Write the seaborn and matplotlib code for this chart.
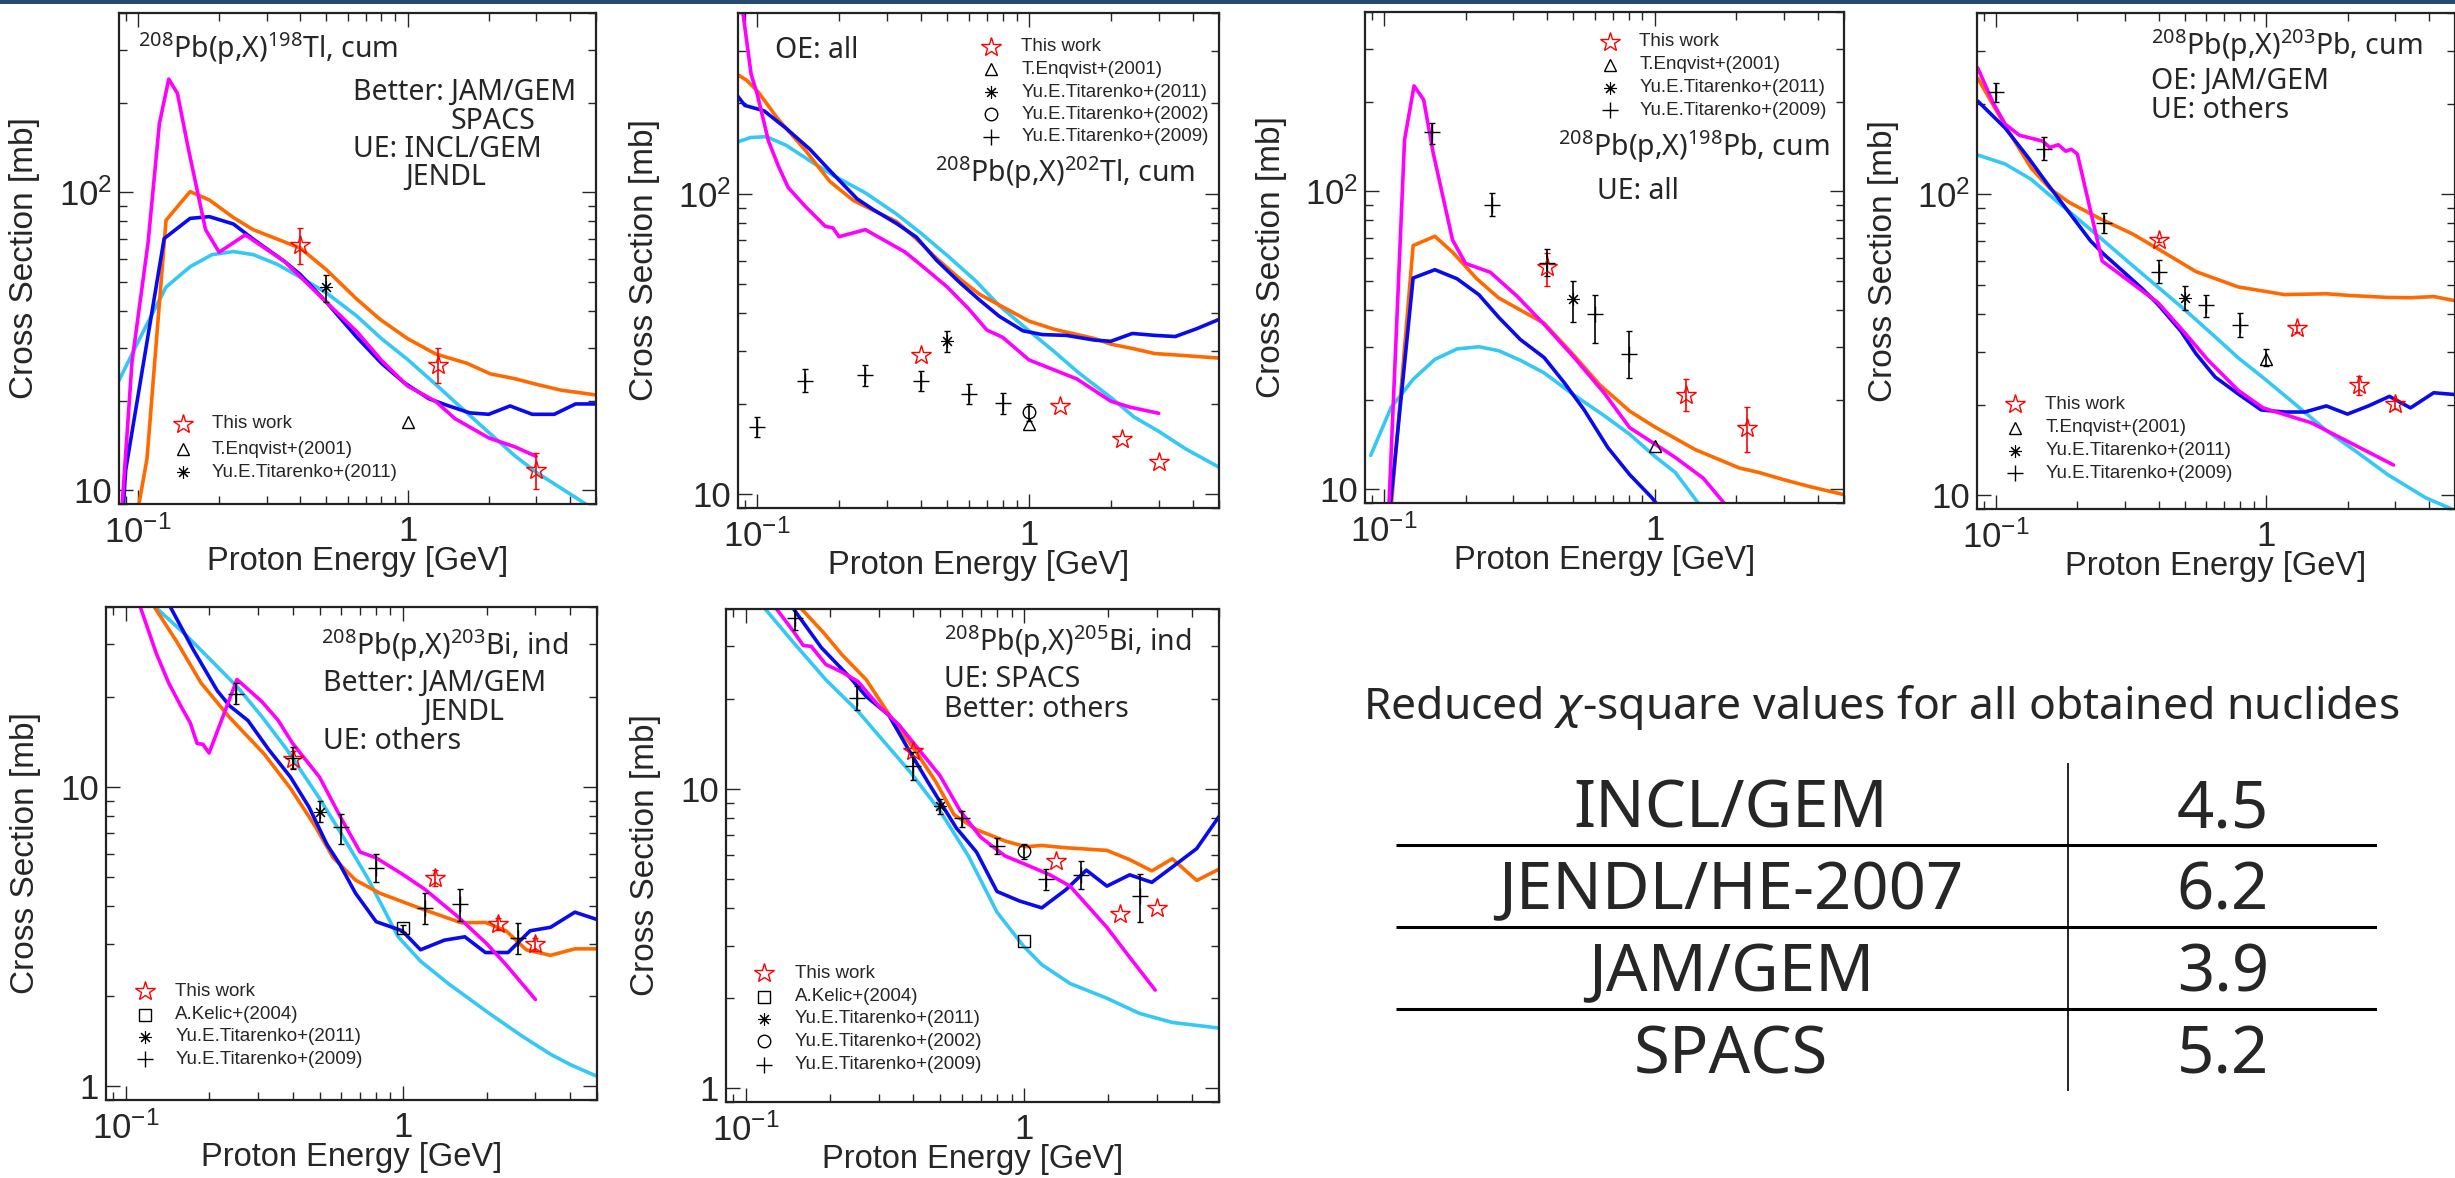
import numpy as np
import pandas as pd
import matplotlib
matplotlib.use("Agg")
import matplotlib.pyplot as plt
import seaborn as sns
from matplotlib.patches import Rectangle
from matplotlib.ticker import NullFormatter

# ---------------- model curves: name -> (proton energy [GeV], cross section [mb])
TL198_MODELS = {
    "SPACS": ([0.085, 0.104, 0.127, 0.156, 0.188, 0.226, 0.268, 0.328, 0.4, 0.5, 0.645, 0.8, 1.0, 1.27, 1.78, 2.49, 3.0, 4.58, 5.0],
              [23.4, 33.8, 48.1, 56.3, 61.8, 63.3, 61.8, 57.4, 51.9, 46.0, 38.6, 32.3, 27.5, 22.7, 17.2, 13.1, 11.5, 9.0, 8.4]),
    "JAM/GEM": ([0.0997, 0.108, 0.127, 0.156, 0.184, 0.226, 0.268, 0.4, 0.5, 0.645, 0.79, 1.0, 1.27, 1.66, 2.03, 2.5, 3.0, 3.7, 5.0],
                [8.5, 12.8, 80.6, 100.6, 94.3, 82.3, 74.9, 65.0, 55.0, 44.0, 37.5, 32.3, 28.7, 26.7, 24.6, 23.7, 22.7, 21.7, 20.9]),
    "INCL/GEM": ([0.088, 0.09, 0.125, 0.156, 0.184, 0.226, 0.268, 0.35, 0.4, 0.5, 0.645, 0.8, 0.97, 1.2, 1.4, 1.7, 2.0, 2.4, 2.9, 3.5, 4.2, 5.0],
                 [8.5, 11.7, 70.0, 81.8, 82.9, 78.3, 69.6, 58.6, 53.0, 42.8, 32.8, 26.7, 23.0, 20.3, 19.3, 18.2, 18.0, 19.2, 18.0, 18.0, 19.5, 19.5]),
    "JENDL/HE-2007": ([0.087, 0.095, 0.109, 0.12, 0.13, 0.14, 0.153, 0.178, 0.2, 0.25, 0.35, 0.5, 0.65, 0.8, 1.0, 1.27, 1.5, 2.0, 2.5, 3.0],
                      [8.5, 27.0, 68.0, 170.0, 240.0, 215.0, 143.0, 75.0, 63.0, 72.0, 58.6, 42.8, 34.0, 27.3, 22.4, 19.9, 17.4, 15.0, 14.0, 13.0]),
}
TL202_MODELS = {
    "SPACS": ([0.085, 0.0945, 0.108, 0.128, 0.156, 0.191, 0.249, 0.326, 0.4, 0.504, 0.637, 0.778, 1.0, 1.24, 1.52, 2.0, 2.43, 3.0, 3.75, 5.0],
              [149, 154, 155, 145, 129, 115, 101, 85.6, 74.0, 62.0, 51.3, 42.4, 35.0, 29.8, 25.4, 21.0, 18.1, 16.2, 14.2, 12.3]),
    "JAM/GEM": ([0.085, 0.0914, 0.101, 0.119, 0.151, 0.185, 0.226, 0.267, 0.326, 0.385, 0.456, 0.557, 0.658, 0.86, 1.0, 1.24, 1.74, 2.0, 2.43, 2.9, 3.45, 5.0],
                [249, 239, 218, 178, 139, 110, 95, 88.2, 80.8, 70.8, 61.1, 52.1, 46.3, 40.6, 37.7, 35.4, 33.0, 31.6, 30.5, 29.4, 29.1, 28.4]),
    "INCL/GEM": ([0.085, 0.09, 0.106, 0.128, 0.156, 0.191, 0.233, 0.267, 0.326, 0.385, 0.456, 0.557, 0.658, 0.778, 0.95, 1.12, 1.37, 1.74, 2.0, 2.4, 2.9, 3.45, 4.15, 5.0],
                 [211, 197, 189, 165, 141, 116, 96.3, 88.7, 79.6, 71.8, 60.2, 50.6, 44.3, 39.1, 35.0, 34.0, 33.8, 32.6, 32.3, 34.3, 33.8, 33.5, 35.6, 38.2]),
    "JENDL/HE-2007": ([0.088, 0.095, 0.1, 0.11, 0.12, 0.13, 0.15, 0.178, 0.19, 0.2, 0.25, 0.35, 0.4, 0.5, 0.6, 0.7, 0.8, 1.0, 1.5, 2.0, 2.35, 3.0],
                      [420, 250, 215, 150, 123, 105, 91, 78, 77, 72, 76, 64, 58, 49, 41.4, 35.2, 33.3, 28.0, 24.2, 20.4, 19.5, 18.6]),
}
PB198_MODELS = {
    "SPACS": ([0.0892, 0.106, 0.128, 0.154, 0.186, 0.224, 0.265, 0.319, 0.39, 0.5, 0.649, 0.808, 1.0, 1.19, 1.46],
              [13.0, 18.8, 23.4, 27.3, 29.6, 30.1, 29.2, 27.1, 24.6, 20.8, 17.7, 15.3, 12.9, 11.4, 8.9]),
    "JAM/GEM": ([0.106, 0.128, 0.154, 0.179, 0.22, 0.265, 0.39, 0.5, 0.627, 0.808, 1.0, 1.41, 2.05, 2.42, 2.97, 3.76, 5.0],
                [8.5, 65.8, 70.7, 62.5, 50.9, 43.9, 36.1, 28.3, 22.4, 18.3, 16.2, 13.6, 11.8, 11.4, 10.8, 10.2, 9.6]),
    "INCL/GEM": ([0.105, 0.128, 0.154, 0.186, 0.224, 0.265, 0.319, 0.39, 0.463, 0.548, 0.671, 0.808, 0.973, 1.03],
                 [8.5, 51.2, 54.6, 50.9, 45.0, 37.8, 31.8, 27.7, 22.8, 18.5, 13.8, 11.2, 9.4, 8.8]),
    "JENDL/HE-2007": ([0.104, 0.119, 0.129, 0.14, 0.152, 0.179, 0.2, 0.247, 0.309, 0.39, 0.5, 0.649, 0.808, 1.0, 1.19, 1.51, 1.84],
                      [8.5, 149, 226, 203, 134, 68.7, 57.3, 53.5, 44.6, 35.8, 27.9, 21.1, 16.1, 14.2, 12.8, 10.9, 8.8]),
}
PB203_MODELS = {
    "SPACS": ([0.0855, 0.108, 0.135, 0.17, 0.207, 0.251, 0.327, 0.397, 0.5, 0.647, 0.788, 0.99, 1.33, 1.67, 2.17, 2.82, 3.9, 5.0],
              [135, 126, 112, 93.8, 81.0, 69.9, 57.0, 49.2, 41.3, 33.6, 28.6, 24.3, 19.5, 16.4, 13.9, 11.7, 9.8, 8.9]),
    "JAM/GEM": ([0.0855, 0.108, 0.135, 0.159, 0.187, 0.243, 0.321, 0.397, 0.55, 0.788, 1.17, 1.67, 2.03, 2.82, 3.42, 4.17, 5.0],
                [243, 169, 122, 104, 93.8, 82.9, 73.7, 65.9, 55.3, 49.2, 46.4, 46.7, 46.1, 45.4, 45.3, 45.7, 44.3]),
    "INCL/GEM": ([0.0855, 0.108, 0.131, 0.154, 0.194, 0.224, 0.251, 0.296, 0.348, 0.397, 0.483, 0.55, 0.647, 0.788, 0.958, 1.17, 1.39, 1.67, 2.0, 2.39, 2.86, 3.42, 4.17, 5.0],
                 [204, 166, 133, 109, 82.9, 69.9, 63.1, 55.3, 48.5, 43.1, 35.1, 29.5, 24.7, 21.7, 19.2, 18.9, 18.9, 19.8, 18.6, 19.8, 21.3, 19.5, 21.9, 21.6]),
    "JENDL/HE-2007": ([0.0855, 0.0976, 0.108, 0.122, 0.149, 0.158, 0.17, 0.181, 0.19, 0.2, 0.247, 0.348, 0.397, 0.5, 0.607, 0.788, 0.974, 1.47, 2.03, 2.96],
                      [263, 201, 171, 157, 150, 143, 146, 139, 141, 136, 60.0, 47.7, 43.7, 34.6, 28.2, 22.3, 19.5, 17.4, 15.0, 12.6]),
}
BI203_MODELS = {
    "SPACS": ([0.115, 0.128, 0.164, 0.207, 0.253, 0.31, 0.38, 0.498, 0.609, 0.746, 0.96, 1.156, 1.46, 2.05, 2.69, 3.4, 4.02, 5.0],
              [46, 40, 32.4, 26.1, 21.6, 17.2, 13.4, 9.22, 6.81, 4.96, 3.16, 2.62, 2.2, 1.75, 1.47, 1.28, 1.18, 1.08]),
    "JAM/GEM": ([0.115, 0.127, 0.153, 0.187, 0.237, 0.316, 0.393, 0.481, 0.56, 0.674, 0.825, 1.156, 1.62, 1.98, 2.35, 2.78, 3.4, 4.16, 5.0],
                [46, 40, 30.6, 22.3, 17.1, 12.9, 9.9, 7.43, 5.81, 4.89, 4.42, 3.93, 3.52, 3.53, 3.31, 2.86, 2.74, 2.88, 2.88]),
    "INCL/GEM": ([0.13, 0.145, 0.175, 0.214, 0.237, 0.276, 0.327, 0.393, 0.458, 0.532, 0.589, 0.674, 0.8, 0.993, 1.156, 1.41, 1.67, 1.98, 2.39, 2.87, 3.4, 4.16, 5.0],
                 [48, 40, 28.9, 21.0, 18.7, 16.7, 13.4, 10.8, 8.58, 6.43, 5.56, 4.42, 3.55, 3.31, 2.86, 3.08, 3.16, 2.8, 2.8, 3.31, 3.40, 3.82, 3.61]),
    "JENDL/HE-2007": ([0.105, 0.113, 0.129, 0.143, 0.158, 0.171, 0.181, 0.19, 0.2, 0.252, 0.31, 0.355, 0.4, 0.5, 0.6, 0.7, 0.8, 1.0, 1.2, 1.57, 2.0, 2.35, 3.0],
                      [55, 40, 28, 22.3, 18.7, 16.4, 14.0, 13.9, 13.0, 22.9, 19.3, 16.7, 14.0, 10.8, 7.83, 6.07, 5.8, 5.1, 4.55, 3.7, 3.0, 2.55, 1.95]),
}
BI205_MODELS = {
    "SPACS": ([0.105, 0.117, 0.148, 0.194, 0.253, 0.31, 0.393, 0.498, 0.63, 0.798, 0.993, 1.156, 1.46, 1.98, 2.59, 3.4, 5.0],
              [48, 40.2, 31.0, 23.2, 18.2, 14.6, 11.3, 8.46, 5.98, 3.88, 2.99, 2.59, 2.24, 2.0, 1.78, 1.66, 1.59]),
    "JAM/GEM": ([0.145, 0.158, 0.19, 0.222, 0.271, 0.332, 0.407, 0.481, 0.56, 0.674, 0.853, 1.01, 1.156, 1.41, 1.98, 2.39, 2.87, 3.4, 4.16, 5.0],
                [46, 40.2, 33.4, 28.1, 23.2, 17.4, 13.4, 10.6, 8.21, 7.32, 6.71, 6.42, 6.48, 6.37, 6.24, 5.81, 5.33, 5.85, 4.95, 5.40]),
    "INCL/GEM": ([0.135, 0.148, 0.187, 0.237, 0.271, 0.326, 0.38, 0.45, 0.498, 0.57, 0.674, 0.798, 0.96, 1.156, 1.41, 1.67, 1.98, 2.39, 2.87, 3.4, 4.16, 5.0],
                 [47, 40.2, 29.7, 23.6, 20.4, 17.7, 13.8, 10.6, 9.09, 7.42, 6.16, 4.55, 4.23, 4.01, 4.61, 5.36, 4.74, 5.17, 4.88, 5.49, 6.33, 8.1]),
    "JENDL/HE-2007": ([0.115, 0.127, 0.148, 0.161, 0.172, 0.194, 0.222, 0.253, 0.3, 0.355, 0.407, 0.498, 0.589, 0.697, 0.853, 0.993, 1.236, 1.46, 1.98, 2.42, 2.95],
                      [48, 40.8, 33.8, 30.2, 30.0, 26.1, 24.6, 22.9, 19.0, 16.4, 14.0, 11.1, 8.46, 6.91, 5.98, 5.64, 5.17, 4.74, 3.45, 2.70, 2.13]),
}

# ---------------- measured points: label -> (energy, xs, err_low, err_high)
TL198_EXP = {
    "This work": ([0.4, 1.3, 3.0], [66.6, 26.3, 11.7], [9.2, 3.3, 1.6], [9.4, 3.7, 1.6]),
    "T.Enqvist+(2001)": ([1.0], [17.0], None, None),
    "Yu.E.Titarenko+(2011)": ([0.5], [48.1], [5.3], [4.9]),
}
TL202_EXP = {
    "This work": ([0.4, 1.3, 2.2, 3.0], [29.0, 19.6, 15.3, 12.8], None, None),
    "T.Enqvist+(2001)": ([1.0], [17.1], None, None),
    "Yu.E.Titarenko+(2011)": ([0.5], [32.3], [2.5], [2.7]),
    "Yu.E.Titarenko+(2002)": ([1.0], [18.8], [1.2], [1.2]),
    "Yu.E.Titarenko+(2009)": ([0.1, 0.15, 0.25, 0.4, 0.6, 0.8], [16.8, 23.9, 24.9, 23.9, 21.6, 20.1],
                              [1.3, 2.0, 2.0, 1.8, 1.6, 1.6], [1.3, 2.2, 2.0, 1.8, 1.6, 1.6]),
}
PB198_EXP = {
    "This work": ([0.4, 1.3, 2.2], [55.6, 20.8, 16.1], [7.6, 2.5, 2.8], [6.4, 2.6, 2.8]),
    "T.Enqvist+(2001)": ([1.0], [14.0], None, None),
    "Yu.E.Titarenko+(2011)": ([0.5], [43.4], [7.0], [6.8]),
    "Yu.E.Titarenko+(2009)": ([0.15, 0.25, 0.4, 0.6, 0.8], [158, 90.3, 57.6, 38.8, 28.5],
                              [14, 7.6, 5.6, 7.8, 4.9], [12, 8.2, 6.4, 6.2, 5.4]),
}
PB203_EXP = {
    "This work": ([0.4, 1.3, 2.2, 3.0], [70.3, 35.9, 23.3, 20.1], [1.0, 1.0, 1.7, 0.8], [1.0, 1.0, 1.6, 0.8]),
    "T.Enqvist+(2001)": ([1.0], [28.4], [1.6], [2.1]),
    "Yu.E.Titarenko+(2011)": ([0.5], [45.3], [3.9], [4.2]),
    "Yu.E.Titarenko+(2009)": ([0.1, 0.15, 0.25, 0.4, 0.6, 0.8], [218, 141, 80.5, 55.3, 42.7, 36.7],
                              [16, 11, 6, 4.6, 3.5, 3.2], [16, 14, 6, 5.1, 3.7, 3.6]),
}
BI203_EXP = {
    "This work": ([0.4, 1.3, 2.2, 3.0], [12.4, 4.98, 3.49, 2.99], [0.8, 0.3, 0.15, 0.15], [0.8, 0.3, 0.15, 0.15]),
    "A.Kelic+(2004)": ([1.0], [3.37], [0.1], [0.1]),
    "Yu.E.Titarenko+(2011)": ([0.5], [8.26], [0.6], [0.7]),
    "Yu.E.Titarenko+(2009)": ([0.25, 0.4, 0.6, 0.8, 1.2, 1.6, 2.6], [20.5, 12.5, 7.36, 5.37, 3.93, 4.07, 3.12],
                              [1.5, 1.0, 0.9, 0.55, 0.45, 0.5, 0.35], [1.8, 1.1, 0.8, 0.6, 0.5, 0.5, 0.4]),
}
BI205_EXP = {
    "This work": ([0.4, 1.3, 2.2, 3.0], [13.4, 5.73, 3.82, 4.01], None, None),
    "A.Kelic+(2004)": ([1.0], [3.10], None, None),
    "Yu.E.Titarenko+(2011)": ([0.5], [8.75], [0.5], [0.5]),
    "Yu.E.Titarenko+(2002)": ([1.0], [6.21], [0.35], [0.35]),
    "Yu.E.Titarenko+(2009)": ([0.15, 0.25, 0.4, 0.6, 0.8, 1.2, 1.6, 2.6], [37.4, 20.1, 11.96, 7.98, 6.46, 5.0, 5.18, 4.41],
                              [3.5, 1.7, 1.2, 0.5, 0.4, 0.4, 0.55, 0.8], [3.5, 2.0, 1.3, 0.5, 0.4, 0.4, 0.55, 0.8]),
}

# ---------------- reduced chi-square table
CHI2_MODELS = ["INCL/GEM", "JENDL/HE-2007", "JAM/GEM", "SPACS"]
CHI2_VALUES = [4.5, 6.2, 3.9, 5.2]

# ---------------- styles
MODEL_COLORS = {"SPACS": "#35c8f5", "JAM/GEM": "#ff6a00",
                "INCL/GEM": "#0a0af0", "JENDL/HE-2007": "#ff00ff"}
EXP_STYLE = {
    "This work": dict(marker="*", ms=15, mfc="none", mec="red", mew=1.0, color="red"),
    "T.Enqvist+(2001)": dict(marker="^", ms=9, mfc="none", mec="black", mew=1.0, color="black"),
    "Yu.E.Titarenko+(2011)": dict(marker=(8, 2, 0), ms=9, mec="black", mew=0.8, color="black"),
    "Yu.E.Titarenko+(2002)": dict(marker="o", ms=9, mfc="none", mec="black", mew=1.0, color="black"),
    "Yu.E.Titarenko+(2009)": dict(marker="+", ms=11, mec="black", mew=1.0, color="black"),
    "A.Kelic+(2004)": dict(marker="s", ms=8, mfc="none", mec="black", mew=1.0, color="black"),
}
ANNOT_FONT = ["Noto Sans", "DejaVu Sans"]

W, H = 2455, 1178
sns.set_style("ticks")
plt.rcParams["font.family"] = ["Liberation Sans", "DejaVu Sans"]
plt.rcParams["axes.linewidth"] = 1.6

fig = plt.figure(figsize=(W / 100, H / 100), dpi=100)
fig.add_artist(Rectangle((0, 1 - 4 / H), 1, 4 / H, transform=fig.transFigure,
                         color="#244a72", lw=0))


def rx(a, b):
    return rf"$^{{\mathdefault{{{a}}}}}$Pb(p,X)$^{{\mathdefault{{{b}}}}}$"


PANELS = [
    dict(box=(119, 13, 596, 504), models=TL198_MODELS, exp=TL198_EXP, low=False,
         key=(0.134, 0.195, [0.163, 0.112, 0.065]), ylab=-0.166,
         notes=[(0.04, 0.928, rx(208, 198) + "Tl, cum", "left"),
                (0.49, 0.838, "Better: JAM/GEM", "left"), (0.696, 0.78, "SPACS", "left"),
                (0.49, 0.722, "UE: INCL/GEM", "left"), (0.60, 0.665, "JENDL", "left")]),
    dict(box=(738, 13, 1219, 508), models=TL202_MODELS, exp=TL202_EXP, low=False,
         key=(0.526, 0.589, [0.932, 0.886, 0.840, 0.795, 0.750]), ylab=-0.163,
         notes=[(0.076, 0.925, "OE: all", "left"),
                (0.951, 0.678, rx(208, 202) + "Tl, cum", "right")]),
    dict(box=(1365, 12, 1844, 503), models=PB198_MODELS, exp=PB198_EXP, low=False,
         key=(0.511, 0.573, [0.939, 0.893, 0.846, 0.800]), ylab=-0.163,
         notes=[(0.969, 0.726, rx(208, 198) + "Pb, cum", "right"),
                (0.484, 0.635, "UE: all", "left")]),
    dict(box=(1977, 13, 2455, 509), models=PB203_MODELS, exp=PB203_EXP, low=False,
         key=(0.080, 0.143, [0.211, 0.164, 0.117, 0.072]), ylab=-0.163,
         notes=[(0.364, 0.935, rx(208, 203) + "Pb, cum", "left"),
                (0.364, 0.862, "OE: JAM/GEM", "left"), (0.364, 0.804, "UE: others", "left")]),
    dict(box=(106, 607, 597, 1100), models=BI203_MODELS, exp=BI203_EXP, low=True,
         key=(0.079, 0.141, [0.221, 0.173, 0.128, 0.083]), ylab=-0.132,
         notes=[(0.438, 0.922, rx(208, 203) + "Bi, ind", "left"),
                (0.442, 0.845, "Better: JAM/GEM", "left"), (0.645, 0.786, "JENDL", "left"),
                (0.442, 0.727, "UE: others", "left")]),
    dict(box=(726, 609, 1219, 1102), models=BI205_MODELS, exp=BI205_EXP, low=True,
         key=(0.077, 0.139, [0.261, 0.213, 0.169, 0.123, 0.076]), ylab=-0.132,
         notes=[(0.442, 0.933, rx(208, 205) + "Bi, ind", "left"),
                (0.442, 0.857, "UE: SPACS", "left"), (0.442, 0.797, "Better: others", "left")]),
]


def draw_panel(p):
    x0, y0, x1, y1 = p["box"]
    ax = fig.add_axes([x0 / W, 1 - y1 / H, (x1 - x0) / W, (y1 - y0) / H])
    ax.set_xscale("log")
    ax.set_yscale("log")

    rows = []
    for name, (e, xs) in p["models"].items():
        rows += [(name, a, b) for a, b in zip(e, xs)]
    df = pd.DataFrame(rows, columns=["model", "E", "xs"])
    sns.lineplot(data=df, x="E", y="xs", hue="model", palette=MODEL_COLORS,
                 estimator=None, sort=False, lw=2.6, legend=False, ax=ax)

    for label, (e, xs, lo, hi) in p["exp"].items():
        st = EXP_STYLE[label]
        if lo is not None:
            ax.errorbar(e, xs, yerr=[lo, hi], fmt="none", ecolor=st["color"],
                        elinewidth=1.2, capsize=2.5, capthick=1.0, zorder=4)
        ax.plot(e, xs, ls="none", zorder=5, **st)

    mx, tx, ys = p["key"]
    for label, y in zip(p["exp"].keys(), ys):
        ax.plot([mx], [y], ls="none", transform=ax.transAxes, clip_on=False, **EXP_STYLE[label])
        ax.text(tx, y, label, transform=ax.transAxes, va="center", ha="left", fontsize=13.5)

    for x, y, s, ha in p["notes"]:
        ax.text(x, y, s, transform=ax.transAxes, va="center", ha=ha,
                fontsize=20.5, family=ANNOT_FONT)

    ax.set_xlim(0.085, 5.0)
    ax.set_xticks([0.1, 1])
    ax.set_xticklabels([r"$\mathdefault{10^{-1}}$", "1"])
    if p["low"]:
        ax.set_ylim(0.9, 40)
        ax.set_yticks([1, 10])
        ax.set_yticklabels(["1", "10"])
    else:
        ax.set_ylim(9, 400)
        ax.set_yticks([10, 100])
        ax.set_yticklabels(["10", r"$\mathdefault{10^2}$"])
    ax.xaxis.set_minor_formatter(NullFormatter())
    ax.yaxis.set_minor_formatter(NullFormatter())
    ax.tick_params(which="both", direction="in", top=True, right=True, width=1.0)
    ax.tick_params(which="major", length=10, labelsize=25)
    ax.tick_params(which="minor", length=5.5)
    ax.tick_params(axis="x", which="major", pad=8)
    ax.tick_params(axis="y", which="major", pad=5)

    ax.set_xlabel("Proton Energy [GeV]", fontsize=23.5)
    ax.set_ylabel("Cross Section [mb]", fontsize=24)
    ax.xaxis.set_label_coords(0.5, -0.085)
    ax.yaxis.set_label_coords(p["ylab"], 0.5)
    for sp in ax.spines.values():
        sp.set_color("#222222")
    return ax


for p in PANELS:
    draw_panel(p)

# reduced chi-square table
fig.text(1881 / W, 1 - 708 / H, r"Reduced $\chi$-square values for all obtained nuclides",
         ha="center", va="center", fontsize=32, family=ANNOT_FONT)
tab = fig.add_axes([1396 / W, 1 - 1091 / H, 981 / W, 328 / H])
n = len(CHI2_MODELS)
tab.set_xlim(0, 1)
tab.set_ylim(n, 0)
tab.axis("off")
tab.hlines(np.arange(1, n), 0, 1, color="black", lw=2.2)
tab.vlines(0.685, 0, n, color="black", lw=1.2)
for i, (name, val) in enumerate(zip(CHI2_MODELS, CHI2_VALUES)):
    tab.text(0.3415, i + 0.58, name, ha="center", va="center", fontsize=47, family=ANNOT_FONT)
    tab.text(0.843, i + 0.58, f"{val:.1f}", ha="center", va="center", fontsize=47, family=ANNOT_FONT)

fig.savefig("out.png", dpi=100)
